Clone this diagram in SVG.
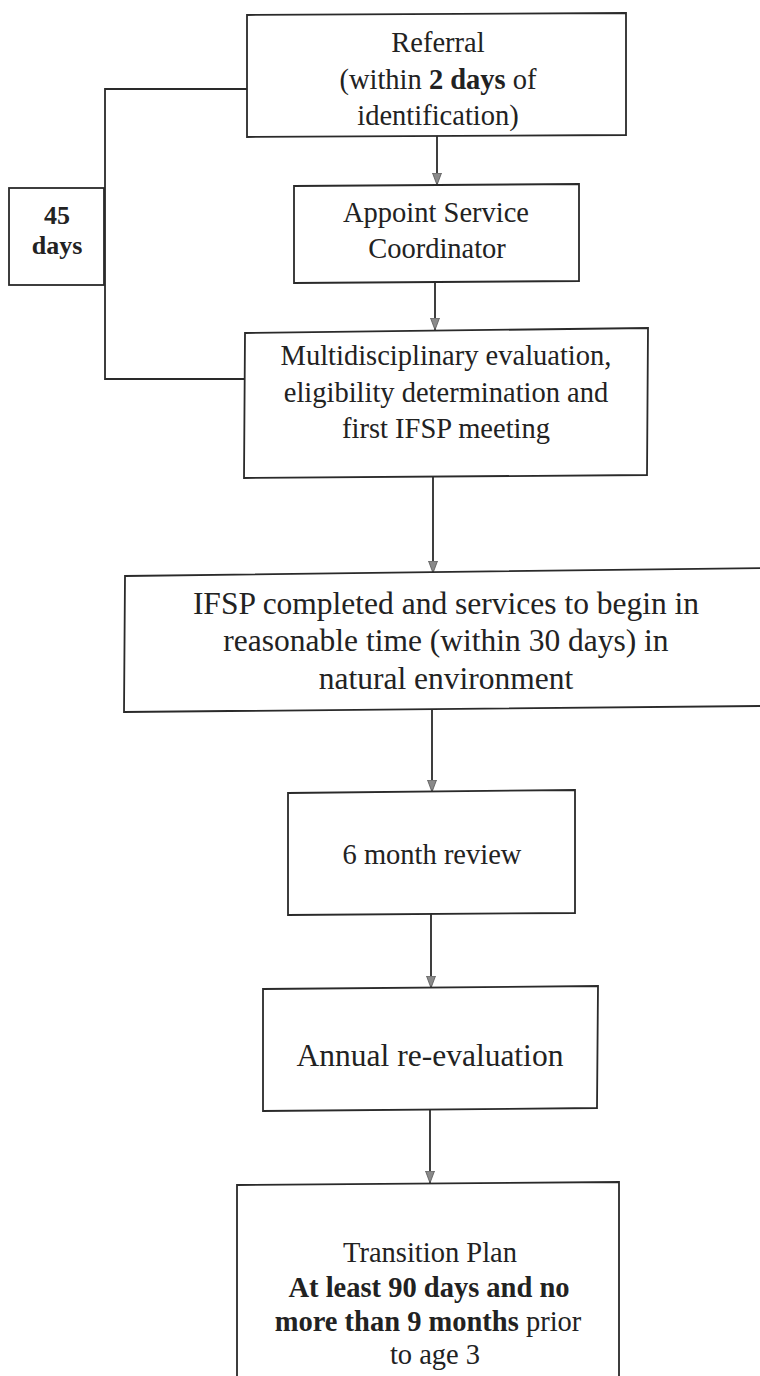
<svg xmlns="http://www.w3.org/2000/svg" width="760" height="1376" viewBox="0 0 760 1376">
<defs>
<style>
.box{fill:#fff;stroke:#2a2a2a;stroke-width:1.8}
.t{font-family:"Liberation Serif","Times New Roman",serif;font-size:28.5px;fill:#222;text-anchor:middle}
.big{font-size:31.5px}
.b{font-weight:bold}
.small{font-size:26px}
.con{fill:none;stroke:#2a2a2a;stroke-width:1.8}
</style>
<marker id="ah" viewBox="0 0 12 10" refX="12" refY="5" markerWidth="12" markerHeight="10" markerUnits="userSpaceOnUse" orient="auto">
<path d="M0,0.5 L12,5 L0,9.5 z" fill="#8a8a8a" stroke="#555" stroke-width="0.8"/>
</marker>
</defs>
<rect width="760" height="1376" fill="#fff"/>
<g id="connectors">
<path class="con" d="M247,89 H105 V379 H245"/>
<line class="con" x1="437" y1="136" x2="437" y2="185" marker-end="url(#ah)"/>
<line class="con" x1="435" y1="282" x2="435" y2="330" marker-end="url(#ah)"/>
<line class="con" x1="433" y1="477" x2="433" y2="573" marker-end="url(#ah)"/>
<line class="con" x1="432" y1="710" x2="432" y2="792" marker-end="url(#ah)"/>
<line class="con" x1="431" y1="914" x2="431" y2="988" marker-end="url(#ah)"/>
<line class="con" x1="430" y1="1110" x2="430" y2="1183" marker-end="url(#ah)"/>
</g>
<g id="referral">
<polygon class="box" points="247,15 626,13 626,135 247,137"/>
<text class="t" x="438" y="52">Referral</text>
<text class="t" x="438" y="89">(within <tspan class="b">2 days</tspan> of</text>
<text class="t" x="438" y="125">identification)</text>
</g>
<g id="days45">
<rect class="box" x="9" y="188" width="95" height="97"/>
<text class="t b small" x="57" y="224">45</text>
<text class="t b small" x="57" y="254">days</text>
</g>
<g id="appoint">
<polygon class="box" points="294,186 579,184 579,281 294,283"/>
<text class="t" x="436" y="222">Appoint Service</text>
<text class="t" x="437" y="258">Coordinator</text>
</g>
<g id="multi">
<polygon class="box" points="245,333 648,328 647,475 244,478"/>
<text class="t" x="446" y="365">Multidisciplinary evaluation,</text>
<text class="t" x="446" y="402">eligibility determination and</text>
<text class="t" x="446" y="438">first IFSP meeting</text>
</g>
<g id="ifsp">
<polygon class="box" points="125,576 762,568 762,706 124,712"/>
<text class="t big" x="446" y="614">IFSP completed and services to begin in</text>
<text class="t big" x="446" y="651">reasonable time (within 30 days) in</text>
<text class="t big" x="446" y="689">natural environment</text>
</g>
<g id="review6">
<polygon class="box" points="288,793 575,790 575,913 288,915"/>
<text class="t" x="432" y="864">6 month review</text>
</g>
<g id="annual">
<polygon class="box" points="263,989 598,986 597,1108 263,1111"/>
<text class="t big" x="430" y="1066">Annual re-evaluation</text>
</g>
<g id="transition">
<polygon class="box" points="237,1185 619,1182 619,1380 237,1380"/>
<text class="t" x="430" y="1262">Transition Plan</text>
<text class="t b" x="429" y="1297">At least 90 days and no</text>
<text class="t" x="428" y="1331"><tspan class="b">more than 9 months</tspan> prior</text>
<text class="t" x="435" y="1364">to age 3</text>
</g>
</svg>
